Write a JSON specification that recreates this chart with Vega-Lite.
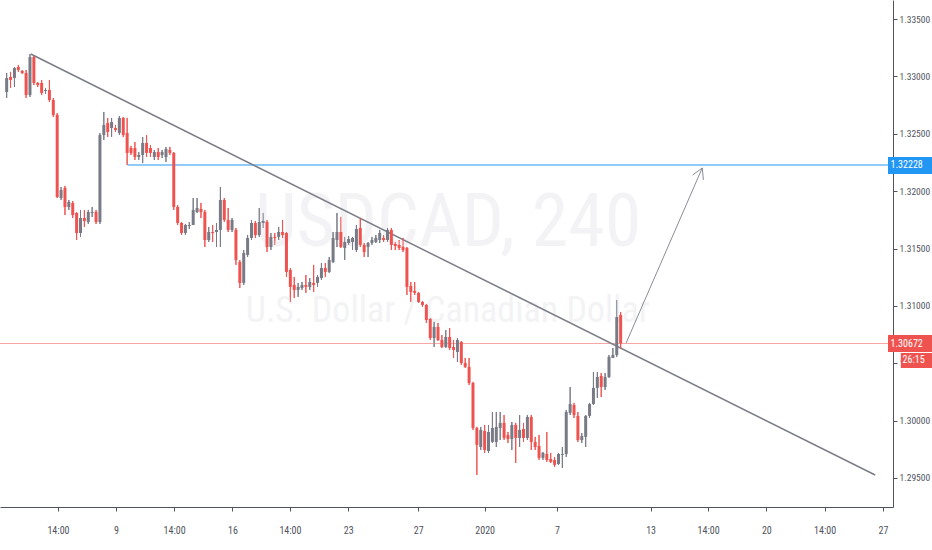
{
  "$schema": "https://vega.github.io/schema/vega-lite/v6.json",
  "width": 893,
  "height": 507,
  "autosize": "none",
  "padding": {"left": 0, "top": 0, "right": 39, "bottom": 43},
  "background": "#ffffff",
  "config": {"view": {"stroke": null}},
  "datasets": {
    "candles": [
      {"i":0,"o":1.32864,"h":1.33030,"l":1.32812,"c":1.32986},
      {"i":1,"o":1.32995,"h":1.33039,"l":1.32899,"c":1.32969},
      {"i":2,"o":1.32986,"h":1.33082,"l":1.32908,"c":1.33073},
      {"i":3,"o":1.33082,"h":1.33100,"l":1.33039,"c":1.33056},
      {"i":4,"o":1.33047,"h":1.33056,"l":1.33021,"c":1.33030},
      {"i":5,"o":1.33030,"h":1.33056,"l":1.32812,"c":1.32838},
      {"i":6,"o":1.32838,"h":1.33195,"l":1.32821,"c":1.33169},
      {"i":7,"o":1.33169,"h":1.33178,"l":1.32925,"c":1.32943},
      {"i":8,"o":1.32943,"h":1.32951,"l":1.32908,"c":1.32925},
      {"i":9,"o":1.32943,"h":1.32969,"l":1.32838,"c":1.32856},
      {"i":10,"o":1.32873,"h":1.32899,"l":1.32847,"c":1.32882},
      {"i":11,"o":1.32882,"h":1.32969,"l":1.32777,"c":1.32794},
      {"i":12,"o":1.32794,"h":1.32812,"l":1.32646,"c":1.32664},
      {"i":13,"o":1.32664,"h":1.32681,"l":1.31940,"c":1.31949},
      {"i":14,"o":1.31940,"h":1.32036,"l":1.31923,"c":1.32010},
      {"i":15,"o":1.32028,"h":1.32045,"l":1.31792,"c":1.31862},
      {"i":16,"o":1.31862,"h":1.31923,"l":1.31836,"c":1.31906},
      {"i":17,"o":1.31897,"h":1.31914,"l":1.31766,"c":1.31792},
      {"i":18,"o":1.31810,"h":1.31818,"l":1.31574,"c":1.31635},
      {"i":19,"o":1.31635,"h":1.31836,"l":1.31601,"c":1.31766},
      {"i":20,"o":1.31766,"h":1.31836,"l":1.31688,"c":1.31740},
      {"i":21,"o":1.31731,"h":1.31836,"l":1.31714,"c":1.31818},
      {"i":22,"o":1.31810,"h":1.31862,"l":1.31775,"c":1.31818},
      {"i":23,"o":1.31818,"h":1.31836,"l":1.31714,"c":1.31731},
      {"i":24,"o":1.31731,"h":1.32507,"l":1.31714,"c":1.32489},
      {"i":25,"o":1.32489,"h":1.32690,"l":1.32446,"c":1.32577},
      {"i":26,"o":1.32594,"h":1.32638,"l":1.32472,"c":1.32516},
      {"i":27,"o":1.32550,"h":1.32638,"l":1.32472,"c":1.32603},
      {"i":28,"o":1.32550,"h":1.32577,"l":1.32516,"c":1.32533},
      {"i":29,"o":1.32507,"h":1.32655,"l":1.32489,"c":1.32638},
      {"i":30,"o":1.32638,"h":1.32646,"l":1.32472,"c":1.32489},
      {"i":31,"o":1.32507,"h":1.32638,"l":1.32228,"c":1.32333},
      {"i":32,"o":1.32376,"h":1.32394,"l":1.32315,"c":1.32333},
      {"i":33,"o":1.32376,"h":1.32428,"l":1.32272,"c":1.32298},
      {"i":34,"o":1.32298,"h":1.32341,"l":1.32272,"c":1.32315},
      {"i":35,"o":1.32315,"h":1.32472,"l":1.32245,"c":1.32420},
      {"i":36,"o":1.32420,"h":1.32489,"l":1.32298,"c":1.32333},
      {"i":37,"o":1.32376,"h":1.32402,"l":1.32298,"c":1.32333},
      {"i":38,"o":1.32298,"h":1.32359,"l":1.32272,"c":1.32341},
      {"i":39,"o":1.32341,"h":1.32376,"l":1.32272,"c":1.32298},
      {"i":40,"o":1.32315,"h":1.32359,"l":1.32289,"c":1.32341},
      {"i":41,"o":1.32298,"h":1.32385,"l":1.32254,"c":1.32367},
      {"i":42,"o":1.32359,"h":1.32385,"l":1.32315,"c":1.32333},
      {"i":43,"o":1.32333,"h":1.32341,"l":1.31836,"c":1.31862},
      {"i":44,"o":1.31862,"h":1.31879,"l":1.31705,"c":1.31723},
      {"i":45,"o":1.31723,"h":1.31731,"l":1.31618,"c":1.31635},
      {"i":46,"o":1.31635,"h":1.31714,"l":1.31618,"c":1.31705},
      {"i":47,"o":1.31696,"h":1.31731,"l":1.31670,"c":1.31705},
      {"i":48,"o":1.31705,"h":1.31940,"l":1.31705,"c":1.31836},
      {"i":49,"o":1.31818,"h":1.31940,"l":1.31810,"c":1.31853},
      {"i":50,"o":1.31845,"h":1.31897,"l":1.31766,"c":1.31818},
      {"i":51,"o":1.31818,"h":1.31836,"l":1.31513,"c":1.31574},
      {"i":52,"o":1.31574,"h":1.31688,"l":1.31557,"c":1.31644},
      {"i":53,"o":1.31644,"h":1.31705,"l":1.31557,"c":1.31635},
      {"i":54,"o":1.31644,"h":1.31723,"l":1.31513,"c":1.31662},
      {"i":55,"o":1.31662,"h":1.32036,"l":1.31513,"c":1.31923},
      {"i":56,"o":1.31923,"h":1.31940,"l":1.31731,"c":1.31749},
      {"i":57,"o":1.31749,"h":1.31853,"l":1.31644,"c":1.31662},
      {"i":58,"o":1.31662,"h":1.31766,"l":1.31644,"c":1.31749},
      {"i":59,"o":1.31662,"h":1.31679,"l":1.31357,"c":1.31400},
      {"i":60,"o":1.31383,"h":1.31400,"l":1.31156,"c":1.31200},
      {"i":61,"o":1.31200,"h":1.31487,"l":1.31182,"c":1.31461},
      {"i":62,"o":1.31444,"h":1.31618,"l":1.31426,"c":1.31592},
      {"i":63,"o":1.31592,"h":1.31749,"l":1.31574,"c":1.31723},
      {"i":64,"o":1.31723,"h":1.31740,"l":1.31592,"c":1.31618},
      {"i":65,"o":1.31618,"h":1.31853,"l":1.31601,"c":1.31731},
      {"i":66,"o":1.31723,"h":1.31810,"l":1.31679,"c":1.31740},
      {"i":67,"o":1.31731,"h":1.31749,"l":1.31470,"c":1.31513},
      {"i":68,"o":1.31513,"h":1.31635,"l":1.31487,"c":1.31601},
      {"i":69,"o":1.31601,"h":1.31635,"l":1.31531,"c":1.31592},
      {"i":70,"o":1.31601,"h":1.31688,"l":1.31574,"c":1.31644},
      {"i":71,"o":1.31644,"h":1.31749,"l":1.31592,"c":1.31618},
      {"i":72,"o":1.31635,"h":1.31644,"l":1.31252,"c":1.31296},
      {"i":73,"o":1.31313,"h":1.31330,"l":1.31034,"c":1.31165},
      {"i":74,"o":1.31182,"h":1.31252,"l":1.31069,"c":1.31139},
      {"i":75,"o":1.31139,"h":1.31200,"l":1.31078,"c":1.31165},
      {"i":76,"o":1.31156,"h":1.31208,"l":1.31139,"c":1.31182},
      {"i":77,"o":1.31182,"h":1.31269,"l":1.31113,"c":1.31165},
      {"i":78,"o":1.31165,"h":1.31243,"l":1.31139,"c":1.31208},
      {"i":79,"o":1.31200,"h":1.31357,"l":1.31121,"c":1.31182},
      {"i":80,"o":1.31200,"h":1.31269,"l":1.31165,"c":1.31252},
      {"i":81,"o":1.31243,"h":1.31374,"l":1.31226,"c":1.31330},
      {"i":82,"o":1.31330,"h":1.31374,"l":1.31252,"c":1.31296},
      {"i":83,"o":1.31296,"h":1.31426,"l":1.31287,"c":1.31400},
      {"i":84,"o":1.31383,"h":1.31644,"l":1.31374,"c":1.31592},
      {"i":85,"o":1.31574,"h":1.31810,"l":1.31513,"c":1.31644},
      {"i":86,"o":1.31644,"h":1.31775,"l":1.31505,"c":1.31513},
      {"i":87,"o":1.31505,"h":1.31601,"l":1.31400,"c":1.31557},
      {"i":88,"o":1.31548,"h":1.31609,"l":1.31531,"c":1.31583},
      {"i":89,"o":1.31557,"h":1.31601,"l":1.31487,"c":1.31592},
      {"i":90,"o":1.31487,"h":1.31705,"l":1.31470,"c":1.31670},
      {"i":91,"o":1.31679,"h":1.31766,"l":1.31513,"c":1.31531},
      {"i":92,"o":1.31531,"h":1.31548,"l":1.31426,"c":1.31470},
      {"i":93,"o":1.31513,"h":1.31557,"l":1.31426,"c":1.31548},
      {"i":94,"o":1.31548,"h":1.31601,"l":1.31531,"c":1.31574},
      {"i":95,"o":1.31557,"h":1.31618,"l":1.31548,"c":1.31592},
      {"i":96,"o":1.31574,"h":1.31662,"l":1.31548,"c":1.31635},
      {"i":97,"o":1.31592,"h":1.31618,"l":1.31557,"c":1.31574},
      {"i":98,"o":1.31574,"h":1.31679,"l":1.31557,"c":1.31662},
      {"i":99,"o":1.31662,"h":1.31679,"l":1.31487,"c":1.31531},
      {"i":100,"o":1.31540,"h":1.31557,"l":1.31487,"c":1.31522},
      {"i":101,"o":1.31531,"h":1.31574,"l":1.31487,"c":1.31505},
      {"i":102,"o":1.31513,"h":1.31592,"l":1.31470,"c":1.31487},
      {"i":103,"o":1.31505,"h":1.31513,"l":1.31095,"c":1.31165},
      {"i":104,"o":1.31174,"h":1.31208,"l":1.31034,"c":1.31121},
      {"i":105,"o":1.31130,"h":1.31208,"l":1.31095,"c":1.31113},
      {"i":106,"o":1.31113,"h":1.31121,"l":1.31025,"c":1.31034},
      {"i":107,"o":1.31034,"h":1.31043,"l":1.30990,"c":1.31008},
      {"i":108,"o":1.31008,"h":1.31017,"l":1.30851,"c":1.30877},
      {"i":109,"o":1.30886,"h":1.30895,"l":1.30703,"c":1.30720},
      {"i":110,"o":1.30720,"h":1.30860,"l":1.30642,"c":1.30816},
      {"i":111,"o":1.30816,"h":1.30851,"l":1.30694,"c":1.30703},
      {"i":112,"o":1.30703,"h":1.30746,"l":1.30633,"c":1.30642},
      {"i":113,"o":1.30642,"h":1.30790,"l":1.30633,"c":1.30729},
      {"i":114,"o":1.30729,"h":1.30807,"l":1.30616,"c":1.30633},
      {"i":115,"o":1.30642,"h":1.30703,"l":1.30546,"c":1.30616},
      {"i":116,"o":1.30598,"h":1.30720,"l":1.30511,"c":1.30703},
      {"i":117,"o":1.30685,"h":1.30694,"l":1.30485,"c":1.30502},
      {"i":118,"o":1.30502,"h":1.30546,"l":1.30459,"c":1.30468},
      {"i":119,"o":1.30468,"h":1.30546,"l":1.30311,"c":1.30328},
      {"i":120,"o":1.30328,"h":1.30337,"l":1.29919,"c":1.29936},
      {"i":121,"o":1.29936,"h":1.29945,"l":1.29526,"c":1.29788},
      {"i":122,"o":1.29770,"h":1.29945,"l":1.29744,"c":1.29919},
      {"i":123,"o":1.29910,"h":1.29962,"l":1.29718,"c":1.29744},
      {"i":124,"o":1.29735,"h":1.29962,"l":1.29718,"c":1.29901},
      {"i":125,"o":1.29814,"h":1.30075,"l":1.29805,"c":1.29936},
      {"i":126,"o":1.29814,"h":1.30075,"l":1.29770,"c":1.29945},
      {"i":127,"o":1.29936,"h":1.30075,"l":1.29831,"c":1.29980},
      {"i":128,"o":1.29980,"h":1.30049,"l":1.29831,"c":1.29849},
      {"i":129,"o":1.29875,"h":1.29901,"l":1.29805,"c":1.29840},
      {"i":130,"o":1.29840,"h":1.29988,"l":1.29744,"c":1.29962},
      {"i":131,"o":1.29962,"h":1.29980,"l":1.29631,"c":1.29849},
      {"i":132,"o":1.29849,"h":1.30049,"l":1.29770,"c":1.29919},
      {"i":133,"o":1.29927,"h":1.29980,"l":1.29814,"c":1.29849},
      {"i":134,"o":1.29849,"h":1.30049,"l":1.29831,"c":1.30032},
      {"i":135,"o":1.30032,"h":1.30049,"l":1.29744,"c":1.29814},
      {"i":136,"o":1.29814,"h":1.29858,"l":1.29744,"c":1.29770},
      {"i":137,"o":1.29779,"h":1.29875,"l":1.29657,"c":1.29675},
      {"i":138,"o":1.29675,"h":1.29727,"l":1.29657,"c":1.29718},
      {"i":139,"o":1.29709,"h":1.29901,"l":1.29640,"c":1.29657},
      {"i":140,"o":1.29666,"h":1.29718,"l":1.29631,"c":1.29640},
      {"i":141,"o":1.29657,"h":1.29683,"l":1.29596,"c":1.29614},
      {"i":142,"o":1.29622,"h":1.29718,"l":1.29614,"c":1.29709},
      {"i":143,"o":1.29701,"h":1.29770,"l":1.29587,"c":1.29709},
      {"i":144,"o":1.29709,"h":1.30093,"l":1.29683,"c":1.30075},
      {"i":145,"o":1.30067,"h":1.30293,"l":1.30049,"c":1.30145},
      {"i":146,"o":1.30136,"h":1.30154,"l":1.30023,"c":1.30049},
      {"i":147,"o":1.30041,"h":1.30075,"l":1.29814,"c":1.29831},
      {"i":148,"o":1.29831,"h":1.29892,"l":1.29805,"c":1.29866},
      {"i":149,"o":1.29858,"h":1.30049,"l":1.29770,"c":1.30041},
      {"i":150,"o":1.30041,"h":1.30154,"l":1.30023,"c":1.30145},
      {"i":151,"o":1.30145,"h":1.30424,"l":1.30136,"c":1.30285},
      {"i":152,"o":1.30285,"h":1.30424,"l":1.30197,"c":1.30380},
      {"i":153,"o":1.30389,"h":1.30415,"l":1.30206,"c":1.30293},
      {"i":154,"o":1.30293,"h":1.30415,"l":1.30267,"c":1.30380},
      {"i":155,"o":1.30380,"h":1.30572,"l":1.30372,"c":1.30555},
      {"i":156,"o":1.30546,"h":1.30633,"l":1.30546,"c":1.30572},
      {"i":157,"o":1.30572,"h":1.31051,"l":1.30555,"c":1.30903},
      {"i":158,"o":1.30921,"h":1.30947,"l":1.30624,"c":1.30672}
    ]
  },
  "layer": [
    {
      "data": {"name": "candles"},
      "mark": {"type": "rule", "strokeWidth": 1},
      "encoding": {
        "x": {"field": "i", "type": "quantitative", "scale": {"domain": [-0.43, 226.8], "nice": false, "zero": false},
          "axis": {"orient": "bottom", "title": null, "grid": false,
            "values": [13.2, 28.1, 43.1, 58.1, 72.9, 87.9, 105.9, 123.0, 141.6, 165.7, 180.5, 195.5, 210.5, 225.5],
            "labelExpr": "['14:00','9','14:00','16','14:00','23','27','2020','7','13','14:00','20','14:00','27'][indexof([13.2, 28.1, 43.1, 58.1, 72.9, 87.9, 105.9, 123.0, 141.6, 165.7, 180.5, 195.5, 210.5, 225.5], datum.value)]",
            "domainColor": "#50535e", "tickColor": "#50535e", "tickSize": 4, "labelColor": "#50535e",
            "labelFont": "Liberation Sans Narrow, Roboto Condensed, DejaVu Sans Condensed, Liberation Sans", "labelFontSize": 10,
            "labelPadding": 14, "labelFlush": false, "labelOverlap": false, "zindex": 0}},
        "y": {"field": "l", "type": "quantitative", "scale": {"domain": [1.29247, 1.33666], "nice": false, "zero": false},
          "axis": {"orient": "right", "title": null, "grid": false,
            "values": [1.295, 1.3, 1.305, 1.31, 1.315, 1.32, 1.325, 1.33, 1.335],
            "labelExpr": "abs(datum.value - 1.305) < 0.0001 ? '1.' : format(datum.value, '.5f')",
            "domainColor": "#50535e", "tickColor": "#50535e", "tickSize": 4, "labelColor": "#50535e",
            "labelFont": "Liberation Sans Narrow, Roboto Condensed, DejaVu Sans Condensed, Liberation Sans", "labelFontSize": 9.5,
            "labelPadding": 2, "labelFlush": false, "labelOverlap": false, "zindex": 0}},
        "y2": {"field": "h"},
        "color": {"condition": {"test": "datum.c >= datum.o", "value": "#787b86"}, "value": "#ef5350"}
      }
    },
    {
      "data": {"values": [{}]},
      "mark": {"type": "text", "text": "USDCAD, 240", "font": "Liberation Sans Narrow, Roboto Condensed, DejaVu Sans Condensed, Liberation Sans", "fontSize": 74, "color": "#f3f3f5", "align": "center", "baseline": "middle"},
      "encoding": {
        "x": {"datum": 113.6, "type": "quantitative"},
        "y": {"datum": 1.31714, "type": "quantitative"}
      }
    },
    {
      "data": {"values": [{}]},
      "mark": {"type": "text", "text": "U.S. Dollar / Canadian Dollar", "font": "Liberation Sans Narrow, Roboto Condensed, DejaVu Sans Condensed, Liberation Sans", "fontSize": 36, "color": "#f3f3f5", "align": "center", "baseline": "middle"},
      "encoding": {
        "x": {"datum": 113.5, "type": "quantitative"},
        "y": {"datum": 1.30956, "type": "quantitative"}
      }
    },
    {
      "data": {"values": [{}]},
      "mark": {"type": "rule", "color": "#f6a7a6", "strokeWidth": 1},
      "encoding": {
        "y": {"datum": 1.30672, "type": "quantitative"}
      }
    },
    {
      "data": {"values": [{}]},
      "mark": {"type": "rule", "color": "#2196f3", "strokeWidth": 1},
      "encoding": {
        "x": {"datum": 31.1, "type": "quantitative"},
        "x2": {"datum": 226.8},
        "y": {"datum": 1.32228, "type": "quantitative"}
      }
    },
    {
      "data": {"values": [{}]},
      "mark": {"type": "rule", "color": "#7b7e87", "strokeWidth": 1.5},
      "encoding": {
        "x": {"datum": 6.2, "type": "quantitative"},
        "x2": {"datum": 223.5},
        "y": {"datum": 1.33195, "type": "quantitative"},
        "y2": {"datum": 1.29526}
      }
    },
    {
      "data": {"values": [{}]},
      "mark": {"type": "rule", "color": "#8a8d96", "strokeWidth": 1},
      "encoding": {
        "x": {"datum": 159.4, "type": "quantitative"},
        "x2": {"datum": 179.0},
        "y": {"datum": 1.30676, "type": "quantitative"},
        "y2": {"datum": 1.32202}
      }
    },
    {
      "data": {"values": [{}]},
      "mark": {"type": "rule", "color": "#8a8d96", "strokeWidth": 1},
      "encoding": {
        "x": {"datum": 176.5, "type": "quantitative"},
        "x2": {"datum": 179.0},
        "y": {"datum": 1.32140, "type": "quantitative"},
        "y2": {"datum": 1.32202}
      }
    },
    {
      "data": {"values": [{}]},
      "mark": {"type": "rule", "color": "#8a8d96", "strokeWidth": 1},
      "encoding": {
        "x": {"datum": 179.3, "type": "quantitative"},
        "x2": {"datum": 179.0},
        "y": {"datum": 1.32098, "type": "quantitative"},
        "y2": {"datum": 1.32202}
      }
    },
    {
      "data": {"name": "candles"},
      "mark": {"type": "rule", "strokeWidth": 1},
      "encoding": {
        "x": {"field": "i", "type": "quantitative"},
        "y": {"field": "l", "type": "quantitative"},
        "y2": {"field": "h"},
        "color": {"condition": {"test": "datum.c >= datum.o", "value": "#787b86"}, "value": "#ef5350"}
      }
    },
    {
      "data": {"name": "candles"},
      "mark": {"type": "bar", "size": 3},
      "encoding": {
        "x": {"field": "i", "type": "quantitative"},
        "y": {"field": "o", "type": "quantitative"},
        "y2": {"field": "c"},
        "color": {"condition": {"test": "datum.c >= datum.o", "value": "#787b86"}, "value": "#ef5350"}
      }
    },
    {
      "data": {"values": [{"label": "1.32228", "p": 1.32228, "top": 1.32298, "bottom": 1.32150, "kind": "blue"}, {"label": "1.30672", "p": 1.30672, "top": 1.30746, "bottom": 1.30598, "kind": "red"}]},
      "mark": {"type": "rect"},
      "encoding": {
        "x": {"datum": 226.8, "type": "quantitative"},
        "x2": {"datum": 240},
        "y": {"field": "top", "type": "quantitative"},
        "y2": {"field": "bottom"},
        "color": {"condition": {"test": "datum.kind == 'blue'", "value": "#2196f3"}, "value": "#ef5350"}
      }
    },
    {
      "data": {"values": [{"top": 1.30590, "bottom": 1.30459}]},
      "mark": {"type": "rect", "color": "#ef5350"},
      "encoding": {
        "x": {"datum": 230.1, "type": "quantitative"},
        "x2": {"datum": 240},
        "y": {"field": "top", "type": "quantitative"},
        "y2": {"field": "bottom"}
      }
    },
    {
      "data": {"values": [{"label": "1.32228", "p": 1.32228}, {"label": "1.30672", "p": 1.30672}]},
      "mark": {"type": "text", "color": "#ffffff", "font": "Liberation Sans Narrow, Roboto Condensed, DejaVu Sans Condensed, Liberation Sans", "fontSize": 10, "align": "center", "baseline": "middle"},
      "encoding": {
        "x": {"datum": 231.6, "type": "quantitative"},
        "y": {"field": "p", "type": "quantitative"},
        "text": {"field": "label"}
      }
    },
    {
      "data": {"values": [{"label": "26:15", "p": 1.30524}]},
      "mark": {"type": "text", "color": "#ffffff", "font": "Liberation Sans Narrow, Roboto Condensed, DejaVu Sans Condensed, Liberation Sans", "fontSize": 10, "align": "center", "baseline": "middle"},
      "encoding": {
        "x": {"datum": 233.4, "type": "quantitative"},
        "y": {"field": "p", "type": "quantitative"},
        "text": {"field": "label"}
      }
    }
  ]
}
